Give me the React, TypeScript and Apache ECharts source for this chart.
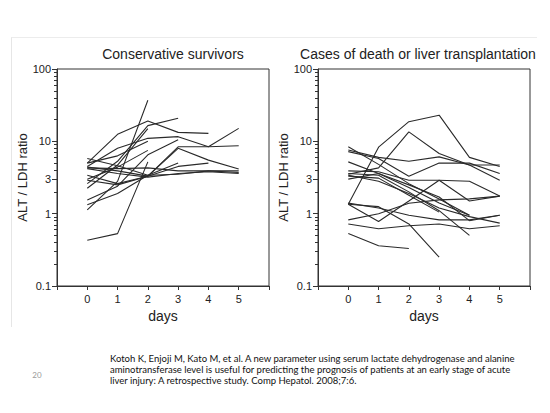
import React, { useEffect, useRef } from "react";
import * as echarts from "echarts";

// ---- data ----
const DAYS = [0, 1, 2, 3, 4, 5];

const LEFT_TITLE = "Conservative survivors";
const RIGHT_TITLE = "Cases of death or liver transplantation";
const Y_NAME = "ALT / LDH ratio";
const X_NAME = "days";

const Y_MAJOR_LABELS = [0.1, 1, 10, 100];
const Y_EXTRA_LABELS = [3];

// Conservative survivors (ALT/LDH ratio by day)
const L01 = [5.0, 12.5, 19.1, 13.3, 12.9, null];
const L02 = [4.5, 8.0, 11.0, 11.6, 8.4, 8.7];
const L03 = [2.6, 5.3, 16.5, 20.8, null, null];
const L04 = [1.13, 2.8, 37, null, null, null];
const L05 = [0.43, 0.53, 5.2, null, null, null];
const L06 = [5.8, 4.6, 3.4, 3.5, 3.9, 3.9];
const L07 = [4.3, 4.2, 4.3, 3.9, 3.9, 3.7];
const L08 = [4.4, 3.9, 3.3, 4.5, 5.0, null];
const L09 = [3.4, 2.6, 3.3, 8.0, 5.5, 4.15];
const L10 = [2.9, 2.5, 3.3, 8.4, 8.4, 15.1];
const L11 = [2.25, 4.7, 15, null, null, null];
const L12 = [1.55, 2.4, 6.5, 10.5, null, null];
const L13 = [1.33, 1.9, 3.4, 5.0, null, null];
const L14 = [5.0, 6.3, 10, null, null, null];
const L15 = [3.0, 4.4, 7.5, null, null, null];
const L16 = [4.2, 3.6, 3.2, 3.6, 3.8, 3.6];

// Cases of death or liver transplantation
const R01 = [1.35, 8.3, 18.7, 23, 6.0, 4.5];
const R02 = [3.5, 4.3, 13.5, 6.8, 4.7, 2.9];
const R03 = [7.6, 6.0, 5.3, 6.1, 4.7, 4.7];
const R04 = [7.2, 5.8, 3.3, 5.0, 5.0, 3.6];
const R05 = [8.4, 4.8, 2.6, 1.6, 0.95, null];
const R06 = [5.2, 3.6, 2.3, 1.4, 0.95, null];
const R07 = [3.9, 3.8, 2.9, 2.9, 2.8, 1.75];
const R08 = [3.6, 3.4, 2.0, 1.1, 0.5, null];
const R09 = [3.3, 3.1, 1.8, 1.05, null, null];
const R10 = [3.0, 3.6, 2.5, 1.7, 0.8, 0.95];
const R11 = [1.35, 1.25, 0.72, 0.25, null, null];
const R12 = [1.35, 0.78, 1.5, 2.9, 1.5, 1.75];
const R13 = [0.82, 1.0, 1.39, 1.55, 1.6, 1.75];
const R14 = [0.72, 0.62, 0.68, 0.72, 0.62, 0.68];
const R15 = [1.4, 1.2, 0.95, 0.82, 0.82, 0.95];
const R16 = [0.53, 0.36, 0.33, null, null, null];
const R17 = [3.4, 2.8, 1.9, 1.2, 0.91, 0.74];

const LEFT_SERIES = [L01, L02, L03, L04, L05, L06, L07, L08, L09, L10, L11, L12, L13, L14, L15, L16];
const RIGHT_SERIES = [R01, R02, R03, R04, R05, R06, R07, R08, R09, R10, R11, R12, R13, R14, R15, R16, R17];

const PAGE_NUMBER = "20";
const CITATION = [
  "Kotoh K, Enjoji M, Kato M, et al. A new parameter using serum lactate dehydrogenase and alanine",
  "aminotransferase level is useful for predicting the prognosis of patients at an early stage of acute",
  "liver injury: A retrospective study. Comp Hepatol. 2008;7:6.",
];

// ---- helpers ----
const AXIS_FONT = "'Liberation Sans', Arial, sans-serif";
const AXIS_COLOR = "#333";

const minorLogTicks: number[] = [];
for (let k = -1; k <= 1; k++) {
  for (let m = 2; m <= 9; m++) {
    if (k === 0 && m === 3) continue;
    minorLogTicks.push(Math.log10(m * Math.pow(10, k)));
  }
}

function toPairs(row: (number | null)[]) {
  const out: [number, number][] = [];
  row.forEach((v, i) => {
    if (v !== null && v !== undefined) out.push([DAYS[i], v]);
  });
  return out;
}

function xAxisFor(gridIndex: number) {
  return {
    type: "value",
    gridIndex,
    min: -1,
    max: 6,
    interval: 1,
    name: X_NAME,
    nameLocation: "middle",
    nameGap: 23,
    nameTextStyle: { fontFamily: AXIS_FONT, fontSize: 14, color: "#222" },
    axisLine: { show: true, onZero: false, lineStyle: { color: AXIS_COLOR, width: 1 } },
    axisTick: { show: true, length: 4, lineStyle: { color: AXIS_COLOR } },
    axisLabel: {
      margin: 7,
      fontFamily: AXIS_FONT,
      fontSize: 11,
      color: "#222",
      formatter: (v: number) => (v >= 0 && v <= 5 ? String(v) : ""),
    },
    splitLine: { show: false },
  };
}

function yAxesFor(gridIndex: number) {
  return [
    {
      type: "log",
      logBase: 10,
      gridIndex,
      min: 0.1,
      max: 100,
      name: Y_NAME,
      nameLocation: "middle",
      nameGap: 21,
      nameTextStyle: { fontFamily: AXIS_FONT, fontSize: 13, color: "#222" },
      axisLine: { show: true, onZero: false, lineStyle: { color: AXIS_COLOR, width: 1 } },
      axisTick: { show: true, length: 5, lineStyle: { color: AXIS_COLOR } },
      axisLabel: {
        margin: 6,
        fontFamily: AXIS_FONT,
        fontSize: 11,
        color: "#222",
        formatter: (v: number) => {
          const hit = Y_MAJOR_LABELS.find((t) => Math.abs(t - v) / t < 1e-6);
          return hit !== undefined ? String(hit) : "";
        },
      },
      splitLine: { show: false },
    },
    {
      type: "value",
      gridIndex,
      min: -1,
      max: 2,
      position: "left",
      axisLine: { show: false, onZero: false },
      axisTick: {
        show: true,
        length: 3,
        customValues: minorLogTicks,
        lineStyle: { color: AXIS_COLOR },
      },
      axisLabel: { show: false },
      splitLine: { show: false },
    },
    {
      type: "value",
      gridIndex,
      min: -1,
      max: 2,
      position: "left",
      axisLine: { show: false, onZero: false },
      axisTick: {
        show: true,
        length: 5,
        customValues: Y_EXTRA_LABELS.map((v) => Math.log10(v)),
        lineStyle: { color: AXIS_COLOR },
      },
      axisLabel: {
        show: true,
        margin: 6,
        fontFamily: AXIS_FONT,
        fontSize: 11,
        color: "#222",
        customValues: Y_EXTRA_LABELS.map((v) => Math.log10(v)),
        formatter: (v: number) => String(Math.round(Math.pow(10, v))),
      },
      splitLine: { show: false },
    },
  ];
}

function seriesFor(rows: (number | null)[][], gridIdx: number) {
  return rows.map((row, i) => ({
    type: "line",
    name: (gridIdx === 0 ? "S" : "D") + (i + 1),
    xAxisIndex: gridIdx,
    yAxisIndex: gridIdx * 3,
    data: toPairs(row),
    symbol: "none",
    silent: true,
    lineStyle: { color: "#2a2a2a", width: 1.1 },
  }));
}

export default function App() {
  const ref = useRef<HTMLDivElement>(null);

  useEffect(() => {
    if (!ref.current) return;
    const chart = echarts.init(ref.current, undefined, { renderer: "svg" });
    const option: any = {
      animation: false,
      backgroundColor: "#ffffff",
      grid: [
        { left: 57, top: 69, width: 212, height: 217, show: true, borderColor: AXIS_COLOR, borderWidth: 1, backgroundColor: "transparent" },
        { left: 318, top: 69, width: 212, height: 217, show: true, borderColor: AXIS_COLOR, borderWidth: 1, backgroundColor: "transparent" },
      ],
      xAxis: [xAxisFor(0), xAxisFor(1)],
      yAxis: [...yAxesFor(0), ...yAxesFor(1)],
      series: [...seriesFor(LEFT_SERIES, 0), ...seriesFor(RIGHT_SERIES, 1)],
      graphic: [
        { type: "line", shape: { x1: 11.5, y1: 37, x2: 11.5, y2: 327 }, style: { stroke: "#e6e6e6", lineWidth: 1 }, silent: true },
        { type: "line", shape: { x1: 11.5, y1: 37.5, x2: 537, y2: 37.5 }, style: { stroke: "#ececec", lineWidth: 1 }, silent: true },
        {
          type: "text", x: 173, y: 54,
          style: { text: LEFT_TITLE, fontFamily: AXIS_FONT, fontSize: 14, fill: "#222", textAlign: "center", textVerticalAlign: "middle" },
        },
        {
          type: "text", x: 418, y: 54,
          style: { text: RIGHT_TITLE, fontFamily: AXIS_FONT, fontSize: 14, fill: "#222", textAlign: "center", textVerticalAlign: "middle" },
        },
        {
          type: "text", x: 37, y: 375,
          style: { text: PAGE_NUMBER, fontFamily: "Lato, 'Open Sans', sans-serif", fontSize: 8, fill: "#9a9a9a", textAlign: "center", textVerticalAlign: "middle" },
        },
        ...CITATION.map((line, i) => ({
          type: "text", x: 110, y: 358 + i * 11.3,
          style: { text: line, fontFamily: "Lato, 'Open Sans', sans-serif", fontSize: 9.5, fill: "#111", textAlign: "left", textVerticalAlign: "middle" },
        })),
      ],
    };
    chart.setOption(option);
    return () => chart.dispose();
  }, []);

  return (
    <div
      ref={ref}
      style={{ position: "fixed", left: 0, top: 0, width: 550, height: 413, background: "#fff" }}
    />
  );
}
